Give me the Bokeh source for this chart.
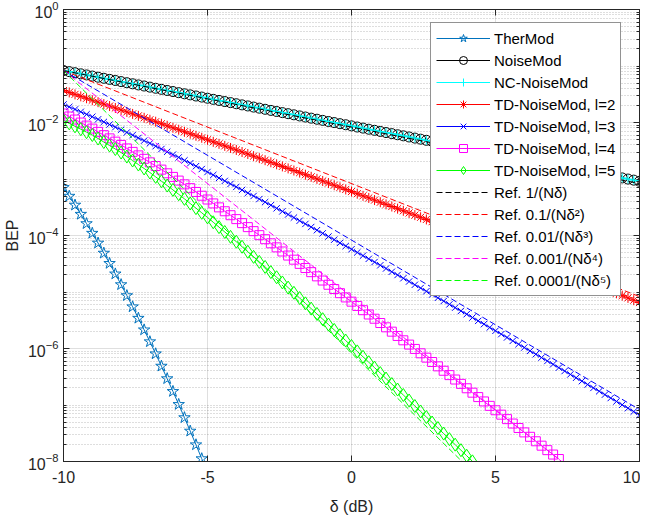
import numpy as np
from bokeh.plotting import figure
from bokeh.models import (Range1d, FixedTicker, LinearAxis, Legend,
                          LegendItem, CustomJSTickFormatter, GlobalInlineStyleSheet)
from bokeh.embed import file_html
from bokeh.resources import INLINE

# ---------------- data (log10 of BEP) ----------------
delta_db = [round(-10 + 0.2 * i, 1) for i in range(101)]

thermod_exp = [-3.150, -3.304, -3.462, -3.624, -3.790, -3.960, -4.134, -4.312, -4.494, -4.680,
               -4.870, -5.064, -5.262, -5.464, -5.670, -5.880, -6.094, -6.312, -6.534, -6.760,
               -6.990, -7.224, -7.462, -7.704, -7.950, -8.200]

noisemod_exp = [-1.080, -1.100, -1.119, -1.139, -1.158, -1.178, -1.198, -1.217, -1.237, -1.256,
                -1.276, -1.296, -1.315, -1.335, -1.354, -1.374, -1.394, -1.413, -1.433, -1.452,
                -1.472, -1.492, -1.511, -1.531, -1.550, -1.570, -1.590, -1.609, -1.629, -1.648,
                -1.668, -1.688, -1.707, -1.727, -1.746, -1.766, -1.786, -1.805, -1.825, -1.844,
                -1.864, -1.884, -1.903, -1.923, -1.942, -1.962, -1.982, -2.001, -2.021, -2.040,
                -2.060, -2.080, -2.099, -2.119, -2.138, -2.158, -2.178, -2.197, -2.217, -2.236,
                -2.256, -2.276, -2.295, -2.315, -2.334, -2.354, -2.374, -2.393, -2.413, -2.432,
                -2.452, -2.472, -2.491, -2.511, -2.530, -2.550, -2.570, -2.589, -2.609, -2.628,
                -2.648, -2.668, -2.687, -2.707, -2.726, -2.746, -2.766, -2.785, -2.805, -2.824,
                -2.844, -2.864, -2.883, -2.903, -2.922, -2.942, -2.962, -2.981, -3.001, -3.020,
                -3.040]

nc_noisemod_exp = list(noisemod_exp)

td2_exp = [-1.434, -1.468, -1.502, -1.537, -1.571, -1.605, -1.640, -1.674, -1.709, -1.743,
           -1.778, -1.813, -1.848, -1.882, -1.917, -1.952, -1.987, -2.022, -2.058, -2.093,
           -2.128, -2.164, -2.199, -2.235, -2.270, -2.306, -2.342, -2.378, -2.414, -2.450,
           -2.486, -2.522, -2.558, -2.595, -2.631, -2.667, -2.704, -2.740, -2.777, -2.813,
           -2.850, -2.887, -2.924, -2.961, -2.998, -3.035, -3.072, -3.110, -3.147, -3.185,
           -3.222, -3.260, -3.298, -3.335, -3.373, -3.411, -3.449, -3.487, -3.525, -3.563,
           -3.601, -3.639, -3.678, -3.716, -3.755, -3.793, -3.832, -3.871, -3.909, -3.948,
           -3.987, -4.026, -4.065, -4.104, -4.143, -4.182, -4.221, -4.261, -4.300, -4.340,
           -4.379, -4.419, -4.459, -4.498, -4.538, -4.578, -4.618, -4.658, -4.699, -4.739,
           -4.779, -4.820, -4.860, -4.901, -4.941, -4.982, -5.023, -5.064, -5.104, -5.145,
           -5.186]

td3_exp = [-1.681, -1.724, -1.768, -1.811, -1.855, -1.898, -1.944, -1.990, -2.036, -2.082,
           -2.128, -2.176, -2.224, -2.273, -2.321, -2.369, -2.419, -2.469, -2.518, -2.568,
           -2.618, -2.670, -2.721, -2.773, -2.824, -2.876, -2.929, -2.982, -3.034, -3.087,
           -3.140, -3.194, -3.248, -3.301, -3.355, -3.409, -3.464, -3.519, -3.573, -3.628,
           -3.683, -3.739, -3.795, -3.850, -3.906, -3.962, -4.018, -4.074, -4.131, -4.187,
           -4.243, -4.300, -4.357, -4.413, -4.470, -4.527, -4.584, -4.642, -4.699, -4.757,
           -4.814, -4.872, -4.930, -4.987, -5.045, -5.103, -5.161, -5.219, -5.277, -5.335,
           -5.393, -5.452, -5.511, -5.569, -5.628, -5.687, -5.746, -5.805, -5.865, -5.924,
           -5.983, -6.042, -6.102, -6.161, -6.221, -6.280, -6.340, -6.399, -6.459, -6.518,
           -6.578, -6.638, -6.698, -6.757, -6.817, -6.877, -6.937, -6.997, -7.057, -7.117,
           -7.177]

td4_exp = [-1.841, -1.894, -1.948, -2.001, -2.055, -2.108, -2.166, -2.224, -2.281, -2.339,
           -2.397, -2.459, -2.520, -2.582, -2.643, -2.705, -2.770, -2.834, -2.899, -2.963,
           -3.028, -3.095, -3.162, -3.229, -3.296, -3.363, -3.432, -3.502, -3.571, -3.641,
           -3.710, -3.781, -3.852, -3.923, -3.994, -4.065, -4.138, -4.210, -4.283, -4.355,
           -4.428, -4.502, -4.576, -4.649, -4.723, -4.797, -4.872, -4.947, -5.021, -5.096,
           -5.171, -5.247, -5.322, -5.398, -5.473, -5.549, -5.625, -5.702, -5.778, -5.855,
           -5.931, -6.008, -6.085, -6.162, -6.239, -6.316, -6.394, -6.471, -6.549, -6.626,
           -6.704, -6.782, -6.860, -6.937, -7.015, -7.093, -7.171, -7.250, -7.328, -7.407,
           -7.485, -7.563, -7.642, -7.720, -7.799, -7.877, -7.956]

td5_exp = [-1.965, -2.016, -2.068, -2.119, -2.171, -2.222, -2.284, -2.346, -2.408, -2.470,
           -2.532, -2.603, -2.673, -2.744, -2.814, -2.885, -2.962, -3.039, -3.116, -3.193,
           -3.270, -3.352, -3.434, -3.516, -3.598, -3.680, -3.766, -3.852, -3.938, -4.024,
           -4.110, -4.199, -4.288, -4.378, -4.467, -4.556, -4.648, -4.739, -4.831, -4.922,
           -5.014, -5.107, -5.201, -5.294, -5.388, -5.481, -5.576, -5.671, -5.765, -5.860,
           -5.955, -6.051, -6.147, -6.243, -6.339, -6.435, -6.532, -6.629, -6.726, -6.823,
           -6.920, -7.018, -7.115, -7.213, -7.310, -7.408, -7.506, -7.604, -7.702, -7.800,
           -7.898, -7.997]

# reference lines (straight lines in this plot): values at delta = -10 dB and 10 dB
ref_db = [-10, 10]
ref1 = [8.3e-2, 8.3e-4]
ref2 = [8.3e-2, 8.3e-6]
ref3 = [8.3e-2, 8.3e-8]
ref4 = [8.3e-2, 8.3e-10]
ref5 = [8.3e-2, 8.3e-12]

y_major = [1e-8, 1e-6, 1e-4, 1e-2, 1.0]
x_major = [-10, -5, 0, 5, 10]

labels = ["TherMod", "NoiseMod", "NC-NoiseMod", "TD-NoiseMod, l=2", "TD-NoiseMod, l=3",
          "TD-NoiseMod, l=4", "TD-NoiseMod, l=5", "Ref. 1/(Nδ)", "Ref. 0.1/(Nδ²)",
          "Ref. 0.01/(Nδ³)", "Ref. 0.001/(Nδ⁴)", "Ref. 0.0001/(Nδ⁵)"]

# ---------------- figure ----------------
FONT = "Liberation Sans"
AX = "#262626"

def bep(exps):
    return [10.0 ** e for e in exps]

def xs(n):
    return delta_db[:n]

y_minor = [k * 10.0 ** d for d in range(-8, 0) for k in range(1, 10)
           if not (k == 1 and d % 2 == 0)]
yticker = FixedTicker(ticks=y_major, minor_ticks=y_minor)
xticker = FixedTicker(ticks=x_major, minor_ticks=[])

p = figure(frame_width=576, frame_height=452, y_axis_type="log",
           x_range=Range1d(-10, 10), y_range=Range1d(1e-8, 1.0),
           output_backend="svg", toolbar_location=None,
           min_border_left=63, min_border_right=1, min_border_top=9, min_border_bottom=57)
p.stylesheets = [GlobalInlineStyleSheet(css="html, body { margin: 0; padding: 0; overflow: hidden; }")]
p.outline_line_color = AX
p.outline_line_width = 1

p.yaxis.ticker = yticker
p.xaxis.ticker = xticker
p.ygrid.ticker = yticker
p.xgrid.ticker = xticker
p.xaxis.formatter = CustomJSTickFormatter(code="return tick.toString();")

for g in (p.xgrid, p.ygrid):
    g.grid_line_color = AX
    g.grid_line_alpha = 0.15
    g.grid_line_width = 1
p.ygrid.minor_grid_line_color = AX
p.ygrid.minor_grid_line_alpha = 0.3
p.ygrid.minor_grid_line_dash = "1 2"

for ax in (p.xaxis[0], p.yaxis[0]):
    ax.axis_line_color = AX
    ax.major_tick_line_color = AX
    ax.minor_tick_line_color = AX
    ax.major_tick_in = 6
    ax.major_tick_out = 0
    ax.minor_tick_in = 3
    ax.minor_tick_out = 0
    ax.major_label_text_font = FONT
    ax.major_label_text_font_size = "16px"
    ax.major_label_text_color = AX
    ax.axis_label_text_font = FONT
    ax.axis_label_text_font_size = "16px"
    ax.axis_label_text_font_style = "normal"
    ax.axis_label_text_color = AX

p.xaxis.axis_label = "δ (dB)"
p.yaxis.axis_label = "BEP"
p.xaxis.major_label_standoff = 9
p.xaxis.axis_label_standoff = 12
p.yaxis.major_label_standoff = 5
p.yaxis.axis_label_standoff = 4

blank = CustomJSTickFormatter(code="return '';")
top = LinearAxis(ticker=xticker, formatter=blank, major_label_text_font_size="1px",
                 major_label_standoff=0,
                 axis_line_color=AX, major_tick_line_color=AX, major_tick_in=6, major_tick_out=0,
                 minor_tick_in=0, minor_tick_out=0)
p.add_layout(top, "above")
right = LinearAxis(ticker=yticker, formatter=blank, major_label_text_font_size="1px",
                   major_label_standoff=0,
                   axis_line_color=AX, major_tick_line_color=AX, minor_tick_line_color=AX,
                   major_tick_in=6, major_tick_out=0, minor_tick_in=3, minor_tick_out=0)
p.add_layout(right, "right")

items = []

def series(exps, color, marker, size, label):
    n = len(exps)
    x = xs(n)
    y = bep(exps)
    ln = p.line(x, y, line_color=color, line_width=1)
    sc = p.scatter(x, y, marker=marker, size=size, line_color=color,
                   fill_color=None, line_width=1)
    items.append(LegendItem(label=label, renderers=[ln, sc]))

series(thermod_exp, "#0072BD", "star", 12, labels[0])
series(noisemod_exp, "#000000", "circle", 10, labels[1])
series(nc_noisemod_exp, "#00FFFF", "cross", 9, labels[2])
series(td2_exp, "#FF0000", "asterisk", 10, labels[3])
series(td3_exp, "#0000FF", "x", 9, labels[4])
series(td4_exp, "#FF00FF", "square", 9, labels[5])
series(td5_exp, "#00FF00", "diamond", 13, labels[6])

for ref, color, lab in zip([ref1, ref2, ref3, ref4, ref5],
                           ["#000000", "#FF0000", "#0000FF", "#FF00FF", "#00FF00"],
                           labels[7:]):
    r = p.line(ref_db, ref, line_color=color, line_width=1, line_dash="6 3")
    items.append(LegendItem(label=lab, renderers=[r]))

legend = Legend(items=items, location=(367, 165))
legend.label_text_font = FONT
legend.label_text_font_size = "15px"
legend.label_text_color = "#000000"
legend.glyph_width = 54
legend.glyph_height = 20
legend.label_height = 20
legend.label_standoff = 4
legend.spacing = 2
legend.padding = 5
legend.margin = 0
legend.border_line_color = AX
legend.border_line_width = 1
legend.background_fill_color = "white"
legend.background_fill_alpha = 1.0
p.add_layout(legend)

open("out.html", "w").write(file_html(p, INLINE))
